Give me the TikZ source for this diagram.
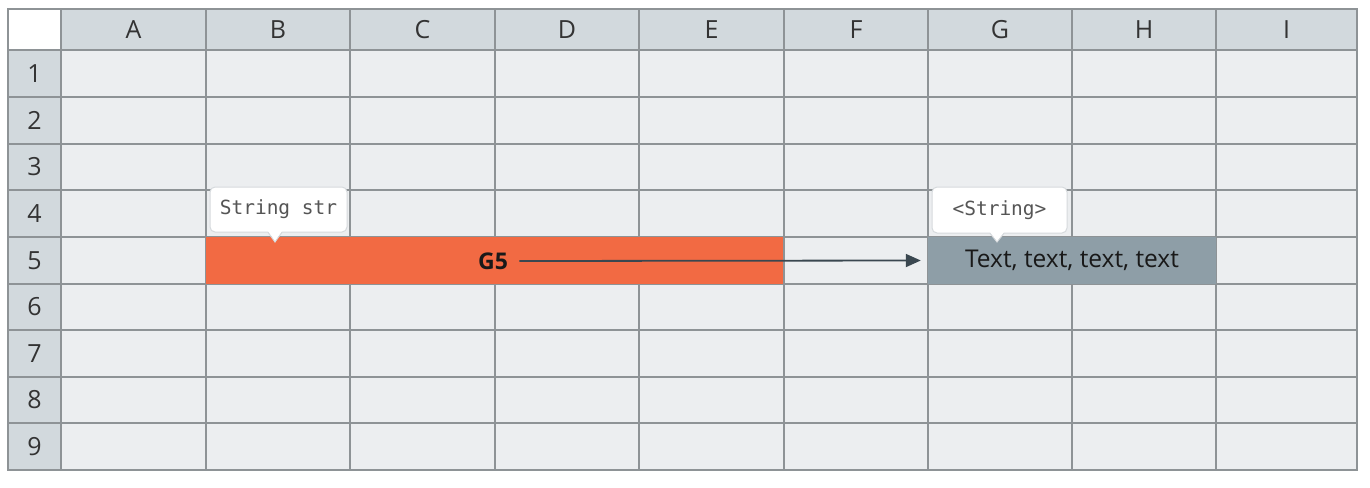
\documentclass[tikz,border=0pt]{standalone}
\usepackage{fontspec}
\setmainfont{Open Sans}
\newfontfamily\monof{DejaVu Sans Mono}
\usetikzlibrary{arrows.meta}
\definecolor{cellbg}{HTML}{ECEEF0}
\definecolor{hdrbg}{HTML}{D2D9DD}
\definecolor{gridc}{HTML}{8E9396}
\definecolor{orangebar}{HTML}{F26A43}
\definecolor{graybar}{HTML}{8E9EA7}
\definecolor{arrowc}{HTML}{3A4750}
\definecolor{callborder}{HTML}{D6DADD}
\definecolor{calltext}{HTML}{555555}
\tikzset{
  gridline/.style={draw=gridc, line width=1.2pt},
  hdrlabel/.style={font=\fontsize{25}{25}\selectfont, text=black!80},
  callbox/.style={draw=callborder, fill=white, rounded corners=5pt, line width=1pt,
    minimum width=137pt, minimum height=45pt, inner sep=0pt,
    font=\monof\fontsize{19.5}{19.5}\selectfont, text=calltext},
  bar/.style={minimum height=47pt, inner sep=0pt, draw=none},
  conn/.style={draw=arrowc, line width=1.8pt, -{Triangle[length=15pt,width=13pt]}}
}
\begin{document}
\begin{tikzpicture}[x=1pt,y=-1pt]
\useasboundingbox (0,0) rectangle (1370,487);
\fill[white] (0,0) rectangle (1370,487);
% backgrounds
\fill[cellbg] (61,50) rectangle (1357,470);
\fill[hdrbg] (61,9) rectangle (1357,50);
\fill[hdrbg] (8,50) rectangle (61,470);
\fill[white] (8,9) rectangle (61,50);
% grid
\foreach \x in {61,206,350,495,639,784,928,1072,1216}
  \draw[gridline] (\x,9) -- (\x,470);
\foreach \y in {50,97,144,190,237,284,330,377,423}
  \draw[gridline] (8,\y) -- (1357,\y);
\draw[gridline] (8,9) rectangle (1357,470);
% column headers
\foreach \lab/\cx in {A/133.5,B/278,C/422.5,D/567,E/711.5,F/856,G/1000,H/1144,I/1286.5}
  \node[hdrlabel] (col\lab) at (\cx,30) {\lab};
% row headers
\foreach \r/\cy in {1/73.5,2/120.5,3/167,4/213.5,5/260.5,6/307,7/353.5,8/400,9/446.5}
  \node[hdrlabel] (row\r) at (34.5,\cy) {\r};
% bars
\node[bar, fill=orangebar, minimum width=578pt] (obar) at (495,260.5) {};
\node[bar, fill=graybar, minimum width=288pt, font=\fontsize{24.5}{24.5}\selectfont, text=black!90] (gbar) at (1072,260.5) {Text, text, text, text};
\draw[draw=gridc, line width=1.2pt] (784,237) -- (784,284);
\node[font=\bfseries\fontsize{23}{23}\selectfont, text=black!90] (g5) at (493,261) {G5};
\coordinate (tip) at ([xshift=-7pt]gbar.west);
\draw[conn] ([xshift=8pt]g5.east) -- (tip);
% callouts
\node[callbox] (call1) at (278.5,209.5) {String str};
\fill[white] (268,231) -- (275,242) -- (282,231) -- cycle;
\draw[callborder, line width=1pt] (268,232.3) -- (275,242) -- (282,232.3);
\fill[white] (268.5,231) -- (275,240.5) -- (281.5,231) -- cycle;
\node[callbox, minimum width=135pt, minimum height=46pt] (call2) at (999.5,210) {<String>};
\fill[white] (990,232) -- (997,242) -- (1004,232) -- cycle;
\draw[callborder, line width=1pt] (990,233.3) -- (997,242) -- (1004,233.3);
\fill[white] (990.5,232) -- (997,240.5) -- (1003.5,232) -- cycle;
\end{tikzpicture}
\end{document}
